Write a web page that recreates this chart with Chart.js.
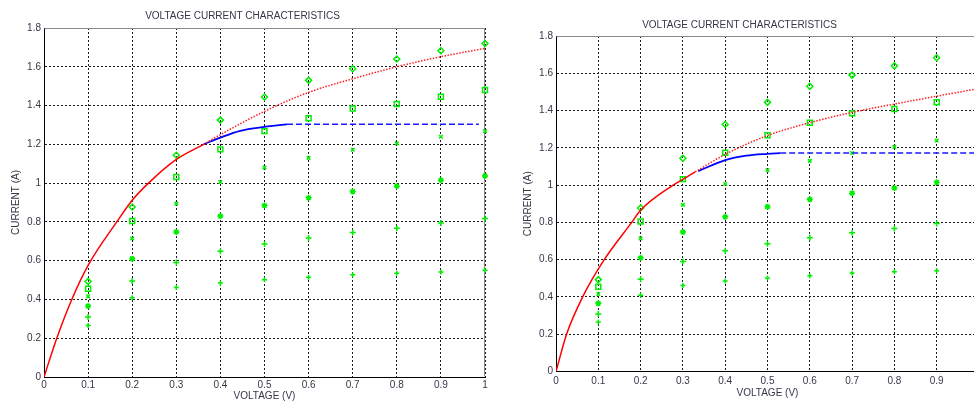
<!DOCTYPE html>
<html>
<head>
<meta charset="utf-8">
<title>Voltage current characteristics</title>
<script src="https://cdn.jsdelivr.net/npm/chart.js@4.4.0/dist/chart.umd.min.js"></script>
<style>
  html, body { margin: 0; padding: 0; background: #fff; overflow: hidden; }
  body { width: 974px; height: 401px; position: relative; }
  canvas { position: absolute; top: 0; }
  #leftChart { left: 0; }
  #rightChart { left: 500px; }
</style>
</head>
<body>
<canvas id="leftChart" width="500" height="401"></canvas>
<canvas id="rightChart" width="500" height="401"></canvas>
<script>
// voltage / current plots - two fits over the same measured points

const TITLE = "VOLTAGE CURRENT CHARACTERISTICS";
const X_LABEL = "VOLTAGE (V)";
const Y_LABEL = "CURRENT (A)";
const X_TICKS = ["0", "0.1", "0.2", "0.3", "0.4", "0.5", "0.6", "0.7", "0.8", "0.9", "1"];
const Y_TICKS = ["0", "0.2", "0.4", "0.6", "0.8", "1", "1.2", "1.4", "1.6", "1.8"];

// measured points (same on both plots)
const VOLTS = [0.1, 0.2, 0.3, 0.4, 0.5, 0.6, 0.7, 0.8, 0.9, 1.0];
const SET_1 = [0.493, 0.877, 1.144, 1.325, 1.444, 1.53, 1.59, 1.64, 1.683, 1.72];
const SET_2 = [0.455, 0.805, 1.032, 1.174, 1.268, 1.335, 1.385, 1.408, 1.445, 1.48];
const SET_3 = [0.416, 0.714, 0.894, 1.006, 1.08, 1.13, 1.172, 1.205, 1.239, 1.268];
const SET_4 = [0.366, 0.61, 0.748, 0.83, 0.884, 0.924, 0.957, 0.984, 1.015, 1.037];
const SET_5 = [0.309, 0.495, 0.59, 0.648, 0.686, 0.717, 0.745, 0.767, 0.794, 0.817];
const SET_6 = [0.266, 0.409, 0.461, 0.485, 0.502, 0.514, 0.528, 0.535, 0.541, 0.55];

// left plot curves
const L_RED_X = [0, 0.029, 0.063, 0.1, 0.165, 0.2, 0.237, 0.3, 0.362];
const L_RED_Y = [0, 0.2, 0.4, 0.576, 0.8, 0.912, 1.0, 1.122, 1.2];
const L_RED_DOT_X = [0.362, 0.4, 0.5, 0.6, 0.7, 0.8, 0.9, 1.0];
const L_RED_DOT_Y = [1.2, 1.25, 1.37, 1.468, 1.538, 1.6, 1.652, 1.695];
const L_BLUE_X = [0.362, 0.4, 0.445, 0.5, 0.551];
const L_BLUE_Y = [1.2, 1.235, 1.27, 1.29, 1.303];
const L_BLUE_DASH_X = [0.551, 0.986];
const L_BLUE_DASH_Y = [1.303, 1.303];

// right plot curves
const R_RED_X = [0, 0.025, 0.063, 0.114, 0.179, 0.2, 0.277, 0.3, 0.329];
const R_RED_Y = [0, 0.2, 0.4, 0.6, 0.8, 0.865, 1.0, 1.031, 1.071];
const R_RED_DOT_X = [0.329, 0.4, 0.5, 0.6, 0.7, 0.8, 0.9, 1.0];
const R_RED_DOT_Y = [1.071, 1.165, 1.266, 1.335, 1.39, 1.435, 1.477, 1.518];
const R_BLUE_X = [0.336, 0.4, 0.45, 0.5, 0.53];
const R_BLUE_Y = [1.075, 1.134, 1.158, 1.168, 1.172];
const R_BLUE_DASH_X = [0.53, 1.0];
const R_BLUE_DASH_Y = [1.172, 1.172];

const GREEN = "#00ee00";
const FONT = "'Liberation Sans', Arial, sans-serif";
const TEXT = "#3a3446";

function pts(xs, ys) {
  return xs.map((x, i) => ({ x, y: ys[i] }));
}

function markerSet(ys, style, radius, hollow) {
  return {
    data: pts(VOLTS, ys),
    showLine: false,
    clip: false,
    pointStyle: style,
    pointRadius: radius,
    pointBorderColor: GREEN,
    pointBackgroundColor: hollow ? "rgba(0,0,0,0)" : GREEN,
    pointBorderWidth: 1.5
  };
}

function curve(xs, ys, color, width, dash) {
  return {
    data: pts(xs, ys),
    showLine: true,
    borderColor: color,
    borderWidth: width,
    borderDash: dash,
    pointRadius: 0,
    cubicInterpolationMode: "monotone",
    fill: false
  };
}

// gray frame round the plot area, drawn under the data
const frameBox = {
  id: "frameBox",
  beforeDatasetsDraw(chart) {
    const { ctx, chartArea: a } = chart;
    ctx.save();
    ctx.strokeStyle = "#8a8a8a";
    ctx.lineWidth = 1;
    ctx.beginPath();
    ctx.moveTo(Math.round(a.left) + 0.5, Math.round(a.top) + 0.5);
    ctx.lineTo(Math.round(a.right) - 0.5, Math.round(a.top) + 0.5);
    ctx.lineTo(Math.round(a.right) - 0.5, Math.round(a.bottom) - 0.5);
    ctx.stroke();
    ctx.restore();
  }
};

function makeChart(id, curves, lay) {
  const datasets = [
    ...curves,
    markerSet(SET_1, "rectRot", 3, true),
    markerSet(SET_2, "rect", 3.5, true),
    markerSet(SET_3, "crossRot", 2.5, false),
    markerSet(SET_4, "star", 3, false),
    markerSet(SET_5, "cross", 3, false),
    markerSet(SET_6, "cross", 2.5, false)
  ];

  const axisBase = {
    type: "linear",
    min: 0,
    grid: { color: "#1a1a1a", lineWidth: 1, drawTicks: false },
    border: { color: "#000", width: 1, dash: [2, 2] }
  };

  return new Chart(document.getElementById(id), {
    type: "scatter",
    data: { datasets },
    plugins: [frameBox],
    options: {
      responsive: false,
      animation: false,
      devicePixelRatio: 1,
      layout: { padding: { left: 0, right: lay.padRight, top: 0, bottom: 0 } },
      plugins: {
        legend: { display: false },
        tooltip: { enabled: false },
        title: {
          display: true,
          text: TITLE,
          color: TEXT,
          font: { family: FONT, size: 10, weight: "normal", lineHeight: 1.2 },
          padding: { top: lay.titleTop, bottom: lay.titleBottom }
        }
      },
      scales: {
        x: {
          ...axisBase,
          max: 1,
          afterFit: s => { s.height = lay.xHeight; },
          ticks: {
            stepSize: 0.1,
            padding: lay.xTickPad,
            color: TEXT,
            font: { family: FONT, size: 10 },
            maxRotation: 0,
            callback: (v, i) => X_TICKS[i]
          },
          title: {
            display: true,
            text: X_LABEL,
            color: TEXT,
            font: { family: FONT, size: 10, lineHeight: 1 },
            padding: { top: 0, bottom: lay.xTitleBottom }
          }
        },
        y: {
          ...axisBase,
          max: 1.8,
          afterFit: s => { s.width = lay.yWidth; },
          ticks: {
            stepSize: 0.2,
            padding: 3,
            color: TEXT,
            font: { family: FONT, size: 10 },
            callback: (v, i) => Y_TICKS[i]
          },
          title: {
            display: true,
            text: Y_LABEL,
            color: TEXT,
            font: { family: FONT, size: 10, lineHeight: 1.2 },
            padding: { top: lay.yTitleTop, bottom: 0 }
          }
        }
      }
    }
  });
}

makeChart("leftChart", [
  curve(L_RED_X, L_RED_Y, "#ff0000", 1.5, []),
  curve(L_RED_DOT_X, L_RED_DOT_Y, "#ff2020", 1.5, [1.5, 1.5]),
  curve(L_BLUE_X, L_BLUE_Y, "#0000ff", 1.8, []),
  curve(L_BLUE_DASH_X, L_BLUE_DASH_Y, "#1a1aff", 1.5, [6, 3])
], {
  padRight: 15, titleTop: 10, titleBottom: 6, xHeight: 24, xTickPad: 2,
  xTitleBottom: 0, yWidth: 44, yTitleTop: 10
});

// right plot runs past the window edge, same as the source screenshot
makeChart("rightChart", [
  curve(R_RED_X, R_RED_Y, "#ff0000", 1.5, []),
  curve(R_RED_DOT_X, R_RED_DOT_Y, "#ff2020", 1.5, [1.5, 1.5]),
  curve(R_BLUE_X, R_BLUE_Y, "#0000ff", 1.8, []),
  curve(R_BLUE_DASH_X, R_BLUE_DASH_Y, "#1a1aff", 1.5, [6, 3])
], {
  padRight: 21, titleTop: 19, titleBottom: 5, xHeight: 29.5, xTickPad: 4,
  xTitleBottom: 3, yWidth: 56, yTitleTop: 22
});
</script>
</body>
</html>
